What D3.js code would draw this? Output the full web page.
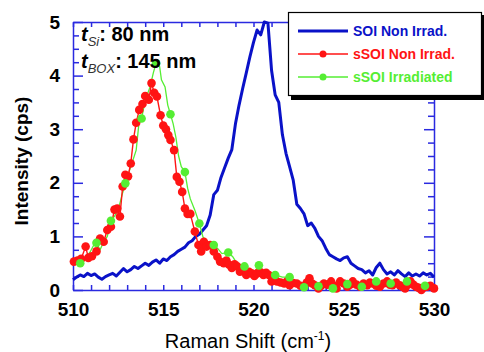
<!DOCTYPE html>
<html>
<head>
<meta charset="utf-8">
<script src="https://cdn.jsdelivr.net/npm/d3@7/dist/d3.min.js"></script>
<style>
  body { margin: 0; background: #fff; }
  svg { display: block; font-family: "Liberation Sans", Arial, sans-serif; }
</style>
</head>
<body>
<div class="graph"></div>
<script>
// SOI non irradiated, sampled every 0.2 cm-1 from 510 to 530
var soiShift = d3.range(0, 101).map(function(i) { return 510 + i * 0.2; });
var soiInt = [
  0.19, 0.24, 0.28, 0.25, 0.31, 0.27, 0.30, 0.24, 0.20, 0.25,
  0.28, 0.31, 0.26, 0.33, 0.40, 0.34, 0.38, 0.44, 0.40, 0.45,
  0.50, 0.46, 0.52, 0.56, 0.50, 0.58, 0.55, 0.62, 0.66, 0.72,
  0.76, 0.80, 0.88, 0.92, 1.00, 1.04, 1.12, 1.20, 1.40, 1.78,
  1.86, 2.10, 2.28, 2.46, 2.62, 3.10, 3.45, 3.76, 4.05, 4.35,
  4.62, 4.85, 4.76, 5.00, 4.98, 4.10, 3.64, 3.50, 2.90, 2.55,
  2.30, 2.05, 1.60, 1.52, 1.42, 1.20, 1.25, 1.15, 1.00, 0.92,
  0.78, 0.66, 0.62, 0.58, 0.55, 0.60, 0.62, 0.50, 0.45, 0.40,
  0.38, 0.32, 0.36, 0.28, 0.42, 0.50, 0.38, 0.30, 0.34, 0.28,
  0.36, 0.30, 0.25, 0.32, 0.26, 0.30, 0.26, 0.32, 0.28, 0.31,
  0.24
];

// sSOI non irradiated (red dots)
var ssoiShift = [
  510.05, 510.25, 510.45, 510.7, 510.85, 511.05, 511.3, 511.5, 511.7, 511.9,
  512.1, 512.3, 512.45, 512.6, 512.75, 512.9, 513.05, 513.2, 513.35, 513.5,
  513.67, 513.85, 514.0, 514.2, 514.35, 514.5, 514.65, 514.85, 515.0, 515.15,
  515.28, 515.4, 515.6, 515.75, 515.9, 516.05, 516.2, 516.35, 516.5, 516.75,
  516.95, 517.1, 517.25, 517.4, 517.6, 517.8, 518.0, 518.15, 518.35, 518.5,
  518.65, 518.8, 518.95, 519.1, 519.25, 519.4, 519.6, 519.75, 519.9, 520.05,
  520.2, 520.4, 520.55, 520.7, 520.85, 521.0, 521.15, 521.3, 521.5, 521.7,
  521.85, 522.0, 522.2, 522.4, 522.6, 522.8, 522.95, 523.1, 523.25, 523.4,
  523.6, 523.75, 523.9, 524.1, 524.3, 524.45, 524.6, 524.8, 525.0, 525.2,
  525.35, 525.5, 525.7, 525.9, 526.1, 526.3, 526.45, 526.6, 526.8, 527.0,
  527.2, 527.4, 527.55, 527.7, 527.9, 528.1, 528.25, 528.4, 528.55, 528.7,
  528.85, 529.0, 529.15, 529.3, 529.45, 529.6, 529.8, 530.0
];
var ssoiInt = [
  0.53, 0.55, 0.58, 0.81, 0.60, 0.63, 0.72, 0.96, 0.90, 1.12,
  1.18, 1.50, 1.52, 1.37, 1.93, 2.15, 2.12, 2.36, 2.81, 3.12,
  3.36, 3.47, 3.62, 3.55, 3.86, 3.68, 3.61, 3.26, 3.07, 3.00,
  2.89, 2.80, 2.61, 2.11, 2.02, 1.83, 1.52, 1.42, 1.42, 1.09,
  0.84, 0.72, 0.90, 0.81, 0.84, 0.72, 0.62, 0.53, 0.50, 0.55,
  0.47, 0.41, 0.48, 0.44, 0.34, 0.38, 0.28, 0.34, 0.31, 0.26,
  0.31, 0.33, 0.28, 0.32, 0.28, 0.16, 0.20, 0.16, 0.14, 0.12,
  0.16, 0.09, 0.13, 0.12, 0.08, 0.06, 0.14, 0.22, 0.12, 0.09,
  0.03, 0.08, 0.12, 0.10, 0.16, 0.08, 0.03, 0.16, 0.12, 0.06,
  0.10, 0.16, 0.10, 0.06, 0.12, 0.09, 0.14, 0.12, 0.08, 0.06,
  0.12, 0.16, 0.10, 0.09, 0.14, 0.09, 0.06, 0.03, 0.10, 0.16,
  0.10, 0.06, 0.04, 0.00, 0.05, 0.06, 0.08, 0.03
];

// sSOI irradiated (green line, dots only on some points)
var irrShift = [
  510.0, 510.4, 510.7, 510.95, 511.2, 511.3, 511.5, 511.7, 511.9, 512.1,
  512.3, 512.5, 512.7, 512.9, 513.1, 513.3, 513.5, 513.65, 513.8, 514.0,
  514.27, 514.45, 514.6, 514.8, 514.9, 515.1, 515.25, 515.4, 515.55, 515.7,
  515.85, 516.0, 516.2, 516.35, 516.5, 516.75, 517.0, 517.2, 517.4, 517.6,
  517.8, 518.0, 518.25, 518.6, 518.85, 519.07, 519.5, 519.75, 520.0, 520.3,
  520.5, 520.7, 521.0, 521.2, 521.6, 522.0, 522.4, 522.8, 523.2, 523.6,
  524.0, 524.4, 524.8, 525.2, 525.6, 526.0, 526.4, 526.8, 527.2, 527.6,
  528.0, 528.5, 529.0, 529.5, 530.0
];
var irrInt = [
  0.50, 0.50, 0.60, 0.71, 0.87, 0.88, 0.75, 0.90, 1.00, 1.29,
  1.38, 1.49, 1.75, 1.99, 2.20, 2.40, 2.61, 3.10, 3.20, 3.54,
  3.79, 4.05, 4.23, 4.17, 3.92, 3.79, 3.45, 3.28, 3.10, 2.85,
  2.50, 2.30, 2.20, 1.90, 1.70, 1.49, 1.24, 0.99, 0.92, 0.88,
  0.84, 0.78, 0.68, 0.70, 0.62, 0.50, 0.44, 0.36, 0.31, 0.46,
  0.35, 0.25, 0.26, 0.28, 0.24, 0.24, 0.14, 0.05, 0.10, 0.07,
  0.12, 0.03, 0.10, 0.11, 0.12, 0.06, 0.10, 0.16, 0.12, 0.12,
  0.10, 0.16, 0.12, 0.08, 0.10
];
var irrDotIdx = [1, 5, 9, 13, 18, 22, 27, 32, 36, 40, 43, 46, 49, 53, 55, 57, 59, 61, 63, 65, 67, 69, 71, 73];

var seriesNames = ["SOI Non Irrad.", "sSOI Non Irrad.", "sSOI Irradiated"];
var seriesColors = ["#0a12c8", "#ff1414", "#55ee33"];

var xTicks = d3.range(510, 531, 1);
var yTicks = d3.range(0, 5.01, 0.25);

var width = 484, height = 352;
var frameColor = "#2a2ae0";

var svg = d3.select("div.graph").append("svg")
    .attr("width", width)
    .attr("height", height);

var x = d3.scaleLinear().domain([510, 530]).range([73, 434]);
var y = d3.scaleLinear().domain([0, 5]).range([290, 22]);

function toPoints(xs, ys) {
  return xs.map(function(d, i) { return {x: d, y: ys[i]}; });
}

// axes (ticks pointing inward on all four sides)
var axisB = svg.append("g")
    .attr("transform", "translate(0," + y(0) + ")")
    .call(d3.axisBottom(x).tickValues(xTicks).tickSize(-5).tickSizeOuter(0).tickPadding(13)
      .tickFormat(function(d) { return d % 5 === 0 ? d : ""; }));

var axisT = svg.append("g")
    .attr("transform", "translate(0," + y(5) + ")")
    .call(d3.axisTop(x).tickValues(xTicks).tickSize(-5).tickSizeOuter(0).tickFormat(""));

var axisL = svg.append("g")
    .attr("transform", "translate(" + x(510) + ",0)")
    .call(d3.axisLeft(y).tickValues(yTicks).tickSize(-6).tickSizeOuter(0).tickPadding(13)
      .tickFormat(function(d) { return d % 1 === 0 ? d : ""; }));

var axisR = svg.append("g")
    .attr("transform", "translate(" + x(530) + ",0)")
    .call(d3.axisRight(y).tickValues(yTicks).tickSize(-6).tickSizeOuter(0).tickFormat(""));

axisL.selectAll(".tick line").attr("x2", function(d) { return d % 1 === 0 ? 10 : 6; });
axisR.selectAll(".tick line").attr("x2", function(d) { return d % 1 === 0 ? -10 : -6; });

[axisB, axisT, axisL, axisR].forEach(function(g) {
  g.select(".domain").attr("stroke", frameColor).attr("stroke-width", 1.5);
  g.selectAll(".tick line").attr("stroke", frameColor).attr("stroke-width", 1.5);
  g.selectAll("text")
    .attr("fill", "#000")
    .style("font-size", "19px")
    .style("font-weight", "bold")
    .style("font-family", "'Liberation Sans', Arial, sans-serif");
});

var lineFn = d3.line()
    .x(function(d) { return x(d.x); })
    .y(function(d) { return y(d.y); });

var irrData = toPoints(irrShift, irrInt);
var ssoiData = toPoints(ssoiShift, ssoiInt);

// SOI line
svg.append("path")
    .datum(toPoints(soiShift, soiInt))
    .attr("fill", "none")
    .attr("stroke", seriesColors[0])
    .attr("stroke-width", 3)
    .attr("stroke-linejoin", "round")
    .attr("d", lineFn);

// green irradiated
svg.append("path")
    .datum(irrData)
    .attr("fill", "none")
    .attr("stroke", seriesColors[2])
    .attr("stroke-width", 1.3)
    .attr("d", lineFn);

// red non irradiated
svg.append("path")
    .datum(ssoiData)
    .attr("fill", "none")
    .attr("stroke", seriesColors[1])
    .attr("stroke-width", 1.4)
    .attr("d", lineFn);

svg.selectAll("circle.ssoi")
  .data(ssoiData)
  .enter().append("circle")
    .attr("class", "ssoi")
    .attr("r", 4.3)
    .attr("cx", function(d) { return x(d.x); })
    .attr("cy", function(d) { return y(d.y); })
    .attr("fill", seriesColors[1]);

svg.selectAll("circle.irr")
  .data(irrDotIdx.map(function(i) { return irrData[i]; }))
  .enter().append("circle")
    .attr("class", "irr")
    .attr("r", 4.3)
    .attr("cx", function(d) { return x(d.x); })
    .attr("cy", function(d) { return y(d.y); })
    .attr("fill", seriesColors[2]);

// annotations
var ann1 = svg.append("text").attr("x", 81).attr("y", 41)
    .style("font-size", "20px").style("font-weight", "bold");
ann1.append("tspan").style("font-style", "italic").text("t");
ann1.append("tspan").attr("dy", 5).style("font-size", "13px").style("font-weight", "normal")
    .style("font-style", "italic").attr("fill", "#333").text("Si");
ann1.append("tspan").attr("dy", -5).text(": 80 nm");

var ann2 = svg.append("text").attr("x", 81).attr("y", 68)
    .style("font-size", "20px").style("font-weight", "bold");
ann2.append("tspan").style("font-style", "italic").text("t");
ann2.append("tspan").attr("dy", 5).style("font-size", "13px").style("font-weight", "normal")
    .style("font-style", "italic").attr("fill", "#333").text("BOX");
ann2.append("tspan").attr("dy", -5).text(": 145 nm");

// axis titles
svg.append("text")
    .attr("transform", "translate(28," + ((y(0) + y(5)) / 2 + 5) + ") rotate(-90)")
    .attr("text-anchor", "middle")
    .style("font-size", "19px")
    .style("font-weight", "bold")
    .text("Intensity (cps)");

var xt = svg.append("text")
    .attr("x", 248).attr("y", 348)
    .attr("text-anchor", "middle")
    .style("font-size", "20px");
xt.append("tspan").text("Raman Shift (cm");
xt.append("tspan").attr("dy", -8).style("font-size", "12px").text("-1");
xt.append("tspan").attr("dy", 8).text(")");

// legend with drop shadow
var legend = svg.append("g");
legend.append("rect").attr("x", 291).attr("y", 15).attr("width", 194).attr("height", 85).attr("fill", "#000");
legend.append("rect").attr("x", 288.5).attr("y", 12.5).attr("width", 193).attr("height", 83)
    .attr("fill", "#fff").attr("stroke", "#000").attr("stroke-width", 1.2);

seriesNames.forEach(function(name, i) {
  var ly = 31 + i * 23;
  legend.append("line")
      .attr("x1", 298).attr("x2", 348).attr("y1", ly).attr("y2", ly)
      .attr("stroke", seriesColors[i])
      .attr("stroke-width", i === 0 ? 3 : 1.3);
  if (i > 0) {
    legend.append("circle").attr("cx", 323).attr("cy", ly).attr("r", 3.5).attr("fill", seriesColors[i]);
  }
  legend.append("text")
      .attr("x", 353).attr("y", ly + 5)
      .attr("fill", seriesColors[i])
      .style("font-size", "14px")
      .style("font-weight", "bold")
      .text(name);
});
</script>
</body>
</html>
